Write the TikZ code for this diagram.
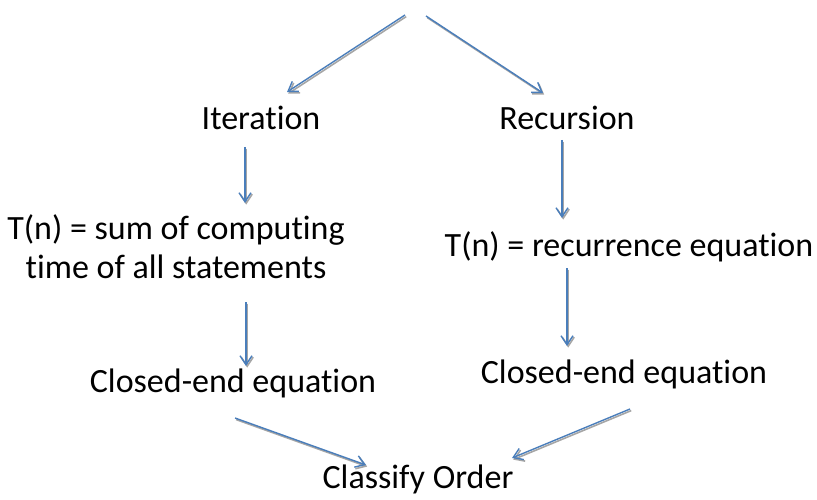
\documentclass[tikz,border=0pt]{standalone}
\usepackage{fontspec}
\setmainfont{Carlito}[Ligatures=NoCommon]
\usetikzlibrary{arrows.meta}
\definecolor{arrblue}{HTML}{4A7EBB}
\definecolor{shadowgray}{HTML}{A6A6A6}
\tikzset{
  lbl/.style={anchor=base, inner sep=0pt, font=\fontsize{34}{39}\selectfont, align=center},
  arr/.style={draw=arrblue, line width=1.4pt, -{Straight Barb[length=9pt,width=12pt,line width=1.4pt]}},
  arrsh/.style={draw=shadowgray, line width=1.6pt, -{Straight Barb[length=9pt,width=12pt,line width=1.6pt]}},
}
\newcommand{\shadedarrow}[2]{%
  \draw[arrsh, transform canvas={xshift=1.2pt,yshift=-1.6pt}] (#1) -- (#2);
  \draw[arr] (#1) -- (#2);}
\begin{document}
\begin{tikzpicture}[x=1pt,y=-1pt]
\useasboundingbox (0,0) rectangle (817,500);
% texts
\node[lbl] (iter) at (261,130) {Iteration};
\node[lbl] (rec) at (567,130) {Recursion};
\node[lbl] (tsum) at (176,278) {T(n) = sum of computing\\time of all statements};
\node[lbl] (trec) at (629,256) {T(n) = recurrence equation};
\node[lbl] (cl) at (233,392) {Closed-end equation};
\node[lbl] (cr) at (624,383) {Closed-end equation};
\node[lbl] (co) at (418,488) {Classify Order};
% arrow endpoints
\coordinate (t1) at (405,15);  \coordinate (t1e) at (287,92);
\coordinate (t2) at (426,16);  \coordinate (t2e) at (543,93);
\coordinate (l1) at (245,147); \coordinate (l1e) at (245,203);
\coordinate (l2) at (246,302); \coordinate (l2e) at (246,366);
\coordinate (r1) at (562,140); \coordinate (r1e) at (562,218);
\coordinate (r2) at (567,268); \coordinate (r2e) at (567,346);
\coordinate (b1) at (235,418); \coordinate (b1e) at (366,465);
\coordinate (b2) at (630,409); \coordinate (b2e) at (512,458);
\shadedarrow{t1}{t1e}
\shadedarrow{t2}{t2e}
\shadedarrow{l1}{l1e}
\shadedarrow{l2}{l2e}
\shadedarrow{r1}{r1e}
\shadedarrow{r2}{r2e}
\shadedarrow{b1}{b1e}
\shadedarrow{b2}{b2e}
\end{tikzpicture}
\end{document}
